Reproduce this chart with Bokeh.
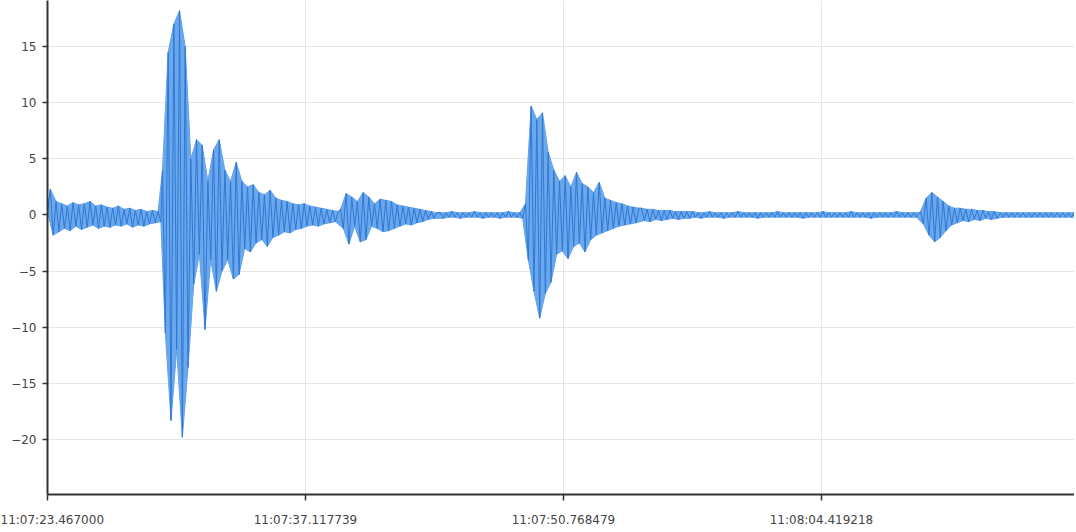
from bokeh.plotting import figure
from bokeh.models import FixedTicker, Range1d
from bokeh.embed import file_html
from bokeh.resources import INLINE

# ---- data ----
TICK_INTERVAL_S = 13.650739
tick_positions = [0, 1, 2, 3]
tick_labels = ["11:07:23.467000", "11:07:37.117739", "11:07:50.768479", "11:08:04.419218"]
y_ticks = [-20, -15, -10, -5, 0, 5, 10, 15]
dt = 0.15  # sample spacing (s)

# segment start times (s after 11:07:23.467)
seg_start = {
    "pre_event": 0.0, "burst1": 6.085, "coda1": 11.48, "burst2": 15.50,
    "quiet1": 20.79, "burst3": 25.29, "quiet2": 31.43, "burst4": 46.19, "tail": 50.42,
}

pre_event = [0.3, 2.3, -1.8, 1.2, -1.5, 1.0, -1.2, 0.8, -1.4, 1.1, -1.0, 0.9, -1.3, 1.0,
             -1.1, 1.2, -0.9, 0.8, -1.2, 0.9, -1.0, 0.7, -1.1, 0.6, -0.9, 0.8, -1.0, 0.5,
             -0.8, 0.6, -1.1, 0.4, -0.9, 0.5, -1.0, 0.3, -0.8, 0.4, -0.7, 0.3, -0.6]
burst1 = [4.0, -10.5, 14.5, -18.3, 17.0, -12.0, 18.2, -19.8, 15.0, -13.6, 5.0, -6.2, 6.7,
          -3.5, 6.2, -10.2, 3.0, -4.0, 5.8, -6.8, 6.7, -5.0, 4.0, -4.0, 3.0, -5.7, 4.7,
          -5.3, 3.0, -3.0, 2.5, -3.3, 2.7, -2.5, 2.0, -2.2]
coda1 = [1.8, -2.8, 2.2, -2.0, 1.5, -1.8, 1.3, -1.5, 1.2, -1.6, 1.0, -1.3, 0.9, -1.2,
         1.0, -1.0, 0.8, -0.9, 0.7, -1.0, 0.6, -0.8, 0.5, -0.7, 0.4, -0.6, 0.3]
burst2 = [0.5, -1.2, 1.9, -2.6, 1.6, -1.0, 1.2, -2.4, 2.0, -2.2, 1.6, -1.0, 1.0, -1.2,
          1.4, -1.5, 1.3, -1.4, 1.2, -1.2, 0.9, -1.0, 0.8, -0.8, 0.7, -0.9, 0.6, -0.7,
          0.5, -0.6, 0.4, -0.4, 0.3, -0.3, 0.2]
quiet1 = [0.2, -0.3, 0.2, -0.2, 0.3, -0.2, 0.2, -0.3, 0.2, -0.2, 0.2, -0.2, 0.3, -0.2,
          0.2, -0.3, 0.2, -0.2, 0.2, -0.2, 0.2, -0.3, 0.2, -0.2, 0.3, -0.2, 0.2, -0.2,
          0.2, -0.3]
burst3 = [1.0, -4.0, 9.7, -6.8, 8.5, -9.2, 9.1, -7.0, 5.6, -6.0, 4.0, -3.5, 3.0, -3.2,
          3.5, -3.9, 2.5, -2.8, 3.8, -2.5, 2.8, -3.3, 2.5, -2.2, 2.0, -1.8, 2.9, -1.6,
          1.5, -1.4, 1.3, -1.2, 1.1, -1.0, 1.0, -0.9, 0.8, -0.8, 0.7, -0.7, 0.6]
quiet2 = [0.6, -0.5, 0.5, -0.6, 0.5, -0.4, 0.4, -0.5, 0.4, -0.4, 0.4, -0.3, 0.3, -0.4,
          0.3, -0.3, 0.3, -0.3, 0.3, -0.2, 0.2, -0.3, 0.2, -0.2, 0.3, -0.2, 0.2, -0.2,
          0.2, -0.3, 0.2, -0.2, 0.2, -0.2, 0.3, -0.2, 0.2, -0.2, 0.2, -0.2, 0.2, -0.3,
          0.2, -0.2, 0.2, -0.2, 0.2, -0.2, 0.3, -0.2, 0.2, -0.2, 0.2, -0.2, 0.2, -0.2,
          0.2, -0.3, 0.2, -0.2, 0.2, -0.2, 0.2, -0.2, 0.3, -0.2, 0.2, -0.2, 0.2, -0.2,
          0.2, -0.2, 0.2, -0.2, 0.3, -0.2, 0.2, -0.2, 0.2, -0.2, 0.2, -0.3, 0.2, -0.2,
          0.2, -0.2, 0.2, -0.2, 0.2, -0.2, 0.3, -0.2, 0.2, -0.2, 0.2, -0.2, 0.2, -0.2,
          0.2]
burst4 = [0.3, -0.8, 1.5, -1.8, 2.0, -2.4, 1.6, -2.0, 1.2, -1.4, 0.8, -0.9, 0.6, -0.7,
          0.6, -0.5, 0.5, -0.6, 0.5, -0.4, 0.4, -0.5, 0.4, -0.3, 0.3, -0.4, 0.3, -0.3]
tail = [0.2, -0.2, 0.2, -0.2, 0.2, -0.2, 0.2, -0.2, 0.2, -0.2, 0.2, -0.2, 0.2, -0.2,
        0.2, -0.2, 0.2, -0.2, 0.2, -0.2, 0.2, -0.2, 0.2, -0.2, 0.2, -0.2, 0.2, -0.2]

segments = [("pre_event", pre_event), ("burst1", burst1), ("coda1", coda1),
            ("burst2", burst2), ("quiet1", quiet1), ("burst3", burst3),
            ("quiet2", quiet2), ("burst4", burst4), ("tail", tail)]

xs, ys = [], []
for name, vals in segments:
    t0 = seg_start[name]
    for i, v in enumerate(vals):
        xs.append((t0 + i * dt) / TICK_INTERVAL_S)
        ys.append(v)

# envelope polygon: positive samples (upper edge) then negative samples (lower edge)
up_x = [x for x, y in zip(xs, ys) if y >= 0]
up_y = [y for y in ys if y >= 0]
lo_x = [x for x, y in zip(xs, ys) if y < 0]
lo_y = [y for y in ys if y < 0]
env_x = up_x + lo_x[::-1]
env_y = up_y + lo_y[::-1]

# ---- figure ----
p = figure(width=1074, height=530, output_backend="svg", toolbar_location=None,
           x_range=Range1d(0, 1027 / 258), y_range=Range1d(-24.9, 19.1),
           min_border_left=47, min_border_right=0, min_border_top=0,
           min_border_bottom=36)
p.outline_line_color = None
p.background_fill_color = "white"
p.border_fill_color = "white"

p.patch(env_x, env_y, fill_color="#62a3ea", fill_alpha=0.95, line_color="#62a3ea",
        line_width=1)
p.line(xs, ys, line_color="#2f78d6", line_width=1)

for ax in (p.xaxis[0], p.yaxis[0]):
    ax.axis_line_color = "#333333"
    ax.axis_line_width = 2
    ax.major_tick_line_color = "#333333"
    ax.major_tick_line_width = 1.5
    ax.major_tick_in = 0
    ax.minor_tick_line_color = None
    ax.major_label_text_font = "DejaVu Sans"
    ax.major_label_text_font_size = "12px"
    ax.major_label_text_color = "#444444"

p.xaxis.ticker = FixedTicker(ticks=tick_positions)
p.xaxis.major_label_overrides = {k: v for k, v in zip(tick_positions, tick_labels)}
p.xaxis.major_tick_out = 6
p.xaxis.major_label_standoff = 12

p.yaxis.ticker = FixedTicker(ticks=y_ticks)
p.yaxis.major_tick_out = 5
p.yaxis.major_label_standoff = 6

p.xgrid.grid_line_color = "#e6e6e6"
p.ygrid.grid_line_color = "#e6e6e6"
p.xgrid.grid_line_width = 1
p.ygrid.grid_line_width = 1

open("out.html", "w").write(file_html(p, INLINE))
